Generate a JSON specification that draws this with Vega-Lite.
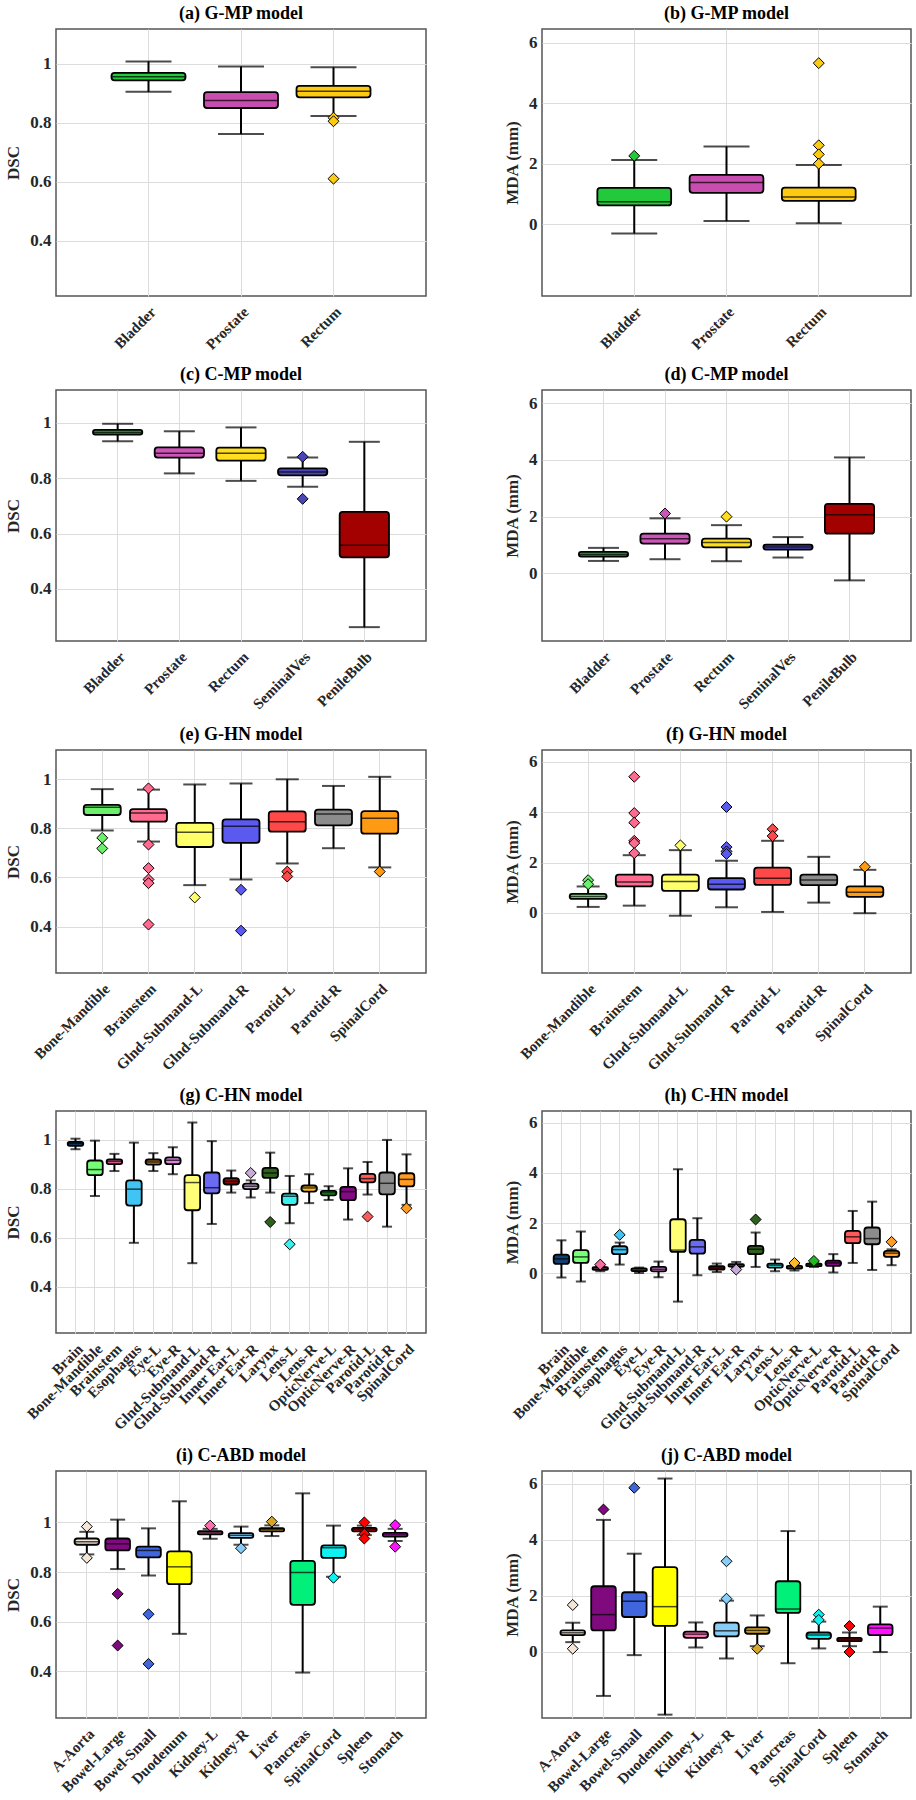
{
"$schema": "https://vega.github.io/schema/vega-lite/v6.json",
"background": "white",
"padding": {"left": 4, "top": 4, "right": 2, "bottom": 2},
"columns": 2,
"spacing": {"row": 12, "column": 75},
"align": "each",
"bounds": "full",
"resolve": {"scale": {"x": "independent", "y": "independent", "fill": "independent"}},
"config": {
  "font": "Liberation Serif",
  "title": {"font": "Liberation Serif", "fontSize": 18, "fontWeight": "bold", "color": "black", "anchor": "middle", "offset": 6},
  "axis": {"labelFont": "Liberation Serif", "labelFontWeight": "bold", "labelColor": "#262626", "titleFont": "Liberation Serif", "titleFontSize": 17, "titleFontWeight": "bold", "titleColor": "#262626", "grid": true, "gridColor": "#dcdcdc", "gridWidth": 1, "domain": false, "ticks": false},
  "axisX": {"labelAngle": -45, "labelPadding": 8, "labelFontSize": 15},
  "axisY": {"labelPadding": 5, "titlePadding": 7, "labelFontSize": 17},
  "view": {"stroke": "#555555", "strokeWidth": 1.5},
  "bar": {"stroke": "black", "strokeWidth": 1.8, "cornerRadius": 3},
  "rule": {"color": "black", "strokeWidth": 2},
  "tick": {"color": "black", "thickness": 2},
  "point": {"shape": "diamond", "filled": true, "size": 120, "stroke": "black", "strokeWidth": 1, "opacity": 1}
},
"datasets": {
  "box": [
    {"p": "a", "cat": "Bladder", "lo": 0.905, "q1": 0.944, "med": 0.956, "q3": 0.969, "hi": 1.008},
    {"p": "a", "cat": "Prostate", "lo": 0.762, "q1": 0.850, "med": 0.875, "q3": 0.904, "hi": 0.991},
    {"p": "a", "cat": "Rectum", "lo": 0.823, "q1": 0.886, "med": 0.907, "q3": 0.925, "hi": 0.988},
    {"p": "b", "cat": "Bladder", "lo": -0.31, "q1": 0.62, "med": 0.74, "q3": 1.20, "hi": 2.125},
    {"p": "b", "cat": "Prostate", "lo": 0.10, "q1": 1.035, "med": 1.38, "q3": 1.63, "hi": 2.57},
    {"p": "b", "cat": "Rectum", "lo": 0.03, "q1": 0.77, "med": 0.90, "q3": 1.21, "hi": 1.96},
    {"p": "c", "cat": "Bladder", "lo": 0.933, "q1": 0.957, "med": 0.965, "q3": 0.974, "hi": 0.996},
    {"p": "c", "cat": "Prostate", "lo": 0.817, "q1": 0.874, "med": 0.890, "q3": 0.911, "hi": 0.969},
    {"p": "c", "cat": "Rectum", "lo": 0.790, "q1": 0.863, "med": 0.890, "q3": 0.910, "hi": 0.983},
    {"p": "c", "cat": "SeminalVes", "lo": 0.769, "q1": 0.810, "med": 0.822, "q3": 0.835, "hi": 0.874},
    {"p": "c", "cat": "PenileBulb", "lo": 0.262, "q1": 0.514, "med": 0.558, "q3": 0.678, "hi": 0.931},
    {"p": "d", "cat": "Bladder", "lo": 0.44, "q1": 0.595, "med": 0.665, "q3": 0.76, "hi": 0.90},
    {"p": "d", "cat": "Prostate", "lo": 0.50, "q1": 1.05, "med": 1.225, "q3": 1.40, "hi": 1.94},
    {"p": "d", "cat": "Rectum", "lo": 0.43, "q1": 0.92, "med": 1.085, "q3": 1.225, "hi": 1.70},
    {"p": "d", "cat": "SeminalVes", "lo": 0.56, "q1": 0.84, "med": 0.935, "q3": 1.015, "hi": 1.28},
    {"p": "d", "cat": "PenileBulb", "lo": -0.245, "q1": 1.40, "med": 2.066, "q3": 2.45, "hi": 4.085},
    {"p": "e", "cat": "Bone-Mandible", "lo": 0.791, "q1": 0.854, "med": 0.885, "q3": 0.895, "hi": 0.959},
    {"p": "e", "cat": "Brainstem", "lo": 0.746, "q1": 0.827, "med": 0.862, "q3": 0.878, "hi": 0.957},
    {"p": "e", "cat": "Glnd-Submand-L", "lo": 0.569, "q1": 0.724, "med": 0.784, "q3": 0.822, "hi": 0.978},
    {"p": "e", "cat": "Glnd-Submand-R", "lo": 0.592, "q1": 0.741, "med": 0.808, "q3": 0.836, "hi": 0.982},
    {"p": "e", "cat": "Parotid-L", "lo": 0.657, "q1": 0.786, "med": 0.827, "q3": 0.869, "hi": 0.999},
    {"p": "e", "cat": "Parotid-R", "lo": 0.719, "q1": 0.812, "med": 0.858, "q3": 0.876, "hi": 0.972},
    {"p": "e", "cat": "SpinalCord", "lo": 0.641, "q1": 0.778, "med": 0.841, "q3": 0.870, "hi": 1.009},
    {"p": "f", "cat": "Bone-Mandible", "lo": 0.24, "q1": 0.556, "med": 0.65, "q3": 0.755, "hi": 1.05},
    {"p": "f", "cat": "Brainstem", "lo": 0.29, "q1": 1.05, "med": 1.23, "q3": 1.52, "hi": 2.29},
    {"p": "f", "cat": "Glnd-Submand-L", "lo": -0.11, "q1": 0.874, "med": 1.245, "q3": 1.52, "hi": 2.49},
    {"p": "f", "cat": "Glnd-Submand-R", "lo": 0.225, "q1": 0.93, "med": 1.14, "q3": 1.38, "hi": 2.07},
    {"p": "f", "cat": "Parotid-L", "lo": 0.04, "q1": 1.11, "med": 1.38, "q3": 1.80, "hi": 2.86},
    {"p": "f", "cat": "Parotid-R", "lo": 0.41, "q1": 1.10, "med": 1.31, "q3": 1.52, "hi": 2.225},
    {"p": "f", "cat": "SpinalCord", "lo": -0.01, "q1": 0.64, "med": 0.82, "q3": 1.05, "hi": 1.71},
    {"p": "g", "cat": "Brain", "lo": 0.962, "q1": 0.976, "med": 0.985, "q3": 0.992, "hi": 1.005},
    {"p": "g", "cat": "Bone-Mandible", "lo": 0.771, "q1": 0.856, "med": 0.879, "q3": 0.916, "hi": 0.997},
    {"p": "g", "cat": "Brainstem", "lo": 0.873, "q1": 0.901, "med": 0.912, "q3": 0.920, "hi": 0.943},
    {"p": "g", "cat": "Esophagus", "lo": 0.580, "q1": 0.732, "med": 0.799, "q3": 0.835, "hi": 0.989},
    {"p": "g", "cat": "Eye-L", "lo": 0.873, "q1": 0.899, "med": 0.910, "q3": 0.920, "hi": 0.946},
    {"p": "g", "cat": "Eye-R", "lo": 0.860, "q1": 0.901, "med": 0.917, "q3": 0.929, "hi": 0.970},
    {"p": "g", "cat": "Glnd-Submand-L", "lo": 0.497, "q1": 0.713, "med": 0.826, "q3": 0.856, "hi": 1.071},
    {"p": "g", "cat": "Glnd-Submand-R", "lo": 0.657, "q1": 0.782, "med": 0.805, "q3": 0.867, "hi": 0.995},
    {"p": "g", "cat": "Inner Ear-L", "lo": 0.785, "q1": 0.818, "med": 0.831, "q3": 0.844, "hi": 0.875},
    {"p": "g", "cat": "Inner Ear-R", "lo": 0.765, "q1": 0.799, "med": 0.811, "q3": 0.822, "hi": 0.835},
    {"p": "g", "cat": "Larynx", "lo": 0.785, "q1": 0.845, "med": 0.865, "q3": 0.886, "hi": 0.948},
    {"p": "g", "cat": "Lens-L", "lo": 0.660, "q1": 0.735, "med": 0.770, "q3": 0.781, "hi": 0.853},
    {"p": "g", "cat": "Lens-R", "lo": 0.742, "q1": 0.789, "med": 0.804, "q3": 0.814, "hi": 0.860},
    {"p": "g", "cat": "OpticNerve-L", "lo": 0.755, "q1": 0.774, "med": 0.784, "q3": 0.792, "hi": 0.811},
    {"p": "g", "cat": "OpticNerve-R", "lo": 0.675, "q1": 0.754, "med": 0.789, "q3": 0.808, "hi": 0.884},
    {"p": "g", "cat": "Parotid-L", "lo": 0.777, "q1": 0.827, "med": 0.842, "q3": 0.861, "hi": 0.910},
    {"p": "g", "cat": "Parotid-R", "lo": 0.646, "q1": 0.778, "med": 0.823, "q3": 0.867, "hi": 1.0},
    {"p": "g", "cat": "SpinalCord", "lo": 0.735, "q1": 0.810, "med": 0.839, "q3": 0.864, "hi": 0.941},
    {"p": "h", "cat": "Brain", "lo": -0.17, "q1": 0.37, "med": 0.57, "q3": 0.74, "hi": 1.31},
    {"p": "h", "cat": "Bone-Mandible", "lo": -0.33, "q1": 0.41, "med": 0.65, "q3": 0.92, "hi": 1.66},
    {"p": "h", "cat": "Brainstem", "lo": 0.08, "q1": 0.13, "med": 0.19, "q3": 0.24, "hi": 0.27},
    {"p": "h", "cat": "Esophagus", "lo": 0.345, "q1": 0.76, "med": 0.94, "q3": 1.075, "hi": 1.22},
    {"p": "h", "cat": "Eye-L", "lo": 0.01, "q1": 0.08, "med": 0.13, "q3": 0.19, "hi": 0.225},
    {"p": "h", "cat": "Eye-R", "lo": -0.16, "q1": 0.07, "med": 0.16, "q3": 0.25, "hi": 0.465},
    {"p": "h", "cat": "Glnd-Submand-L", "lo": -1.13, "q1": 0.85, "med": 0.92, "q3": 2.15, "hi": 4.14},
    {"p": "h", "cat": "Glnd-Submand-R", "lo": -0.08, "q1": 0.78, "med": 1.05, "q3": 1.33, "hi": 2.19},
    {"p": "h", "cat": "Inner Ear-L", "lo": 0.05, "q1": 0.146, "med": 0.21, "q3": 0.28, "hi": 0.385},
    {"p": "h", "cat": "Inner Ear-R", "lo": 0.24, "q1": 0.265, "med": 0.32, "q3": 0.36, "hi": 0.45},
    {"p": "h", "cat": "Larynx", "lo": 0.25, "q1": 0.76, "med": 0.955, "q3": 1.09, "hi": 1.62},
    {"p": "h", "cat": "Lens-L", "lo": 0.08, "q1": 0.225, "med": 0.32, "q3": 0.385, "hi": 0.545},
    {"p": "h", "cat": "Lens-R", "lo": 0.105, "q1": 0.185, "med": 0.24, "q3": 0.29, "hi": 0.33},
    {"p": "h", "cat": "OpticNerve-L", "lo": 0.25, "q1": 0.28, "med": 0.345, "q3": 0.385, "hi": 0.40},
    {"p": "h", "cat": "OpticNerve-R", "lo": 0.03, "q1": 0.29, "med": 0.41, "q3": 0.505, "hi": 0.76},
    {"p": "h", "cat": "Parotid-L", "lo": 0.41, "q1": 1.195, "med": 1.45, "q3": 1.69, "hi": 2.48},
    {"p": "h", "cat": "Parotid-R", "lo": 0.13, "q1": 1.155, "med": 1.38, "q3": 1.82, "hi": 2.85},
    {"p": "h", "cat": "SpinalCord", "lo": 0.32, "q1": 0.65, "med": 0.80, "q3": 0.89, "hi": 0.95},
    {"p": "i", "cat": "A-Aorta", "lo": 0.871, "q1": 0.910, "med": 0.922, "q3": 0.935, "hi": 0.962},
    {"p": "i", "cat": "Bowel-Large", "lo": 0.812, "q1": 0.887, "med": 0.914, "q3": 0.935, "hi": 1.011},
    {"p": "i", "cat": "Bowel-Small", "lo": 0.786, "q1": 0.859, "med": 0.887, "q3": 0.902, "hi": 0.976},
    {"p": "i", "cat": "Duodenum", "lo": 0.551, "q1": 0.751, "med": 0.821, "q3": 0.883, "hi": 1.085},
    {"p": "i", "cat": "Kidney-L", "lo": 0.934, "q1": 0.952, "med": 0.958, "q3": 0.965, "hi": 0.974},
    {"p": "i", "cat": "Kidney-R", "lo": 0.910, "q1": 0.938, "med": 0.948, "q3": 0.957, "hi": 0.983},
    {"p": "i", "cat": "Liver", "lo": 0.945, "q1": 0.964, "med": 0.972, "q3": 0.977, "hi": 0.988},
    {"p": "i", "cat": "Pancreas", "lo": 0.395, "q1": 0.668, "med": 0.798, "q3": 0.845, "hi": 1.117},
    {"p": "i", "cat": "SpinalCord", "lo": 0.781, "q1": 0.857, "med": 0.898, "q3": 0.907, "hi": 0.987},
    {"p": "i", "cat": "Spleen", "lo": 0.949, "q1": 0.964, "med": 0.972, "q3": 0.978, "hi": 0.987},
    {"p": "i", "cat": "Stomach", "lo": 0.925, "q1": 0.943, "med": 0.950, "q3": 0.958, "hi": 0.974},
    {"p": "j", "cat": "A-Aorta", "lo": 0.335, "q1": 0.585, "med": 0.67, "q3": 0.755, "hi": 1.03},
    {"p": "j", "cat": "Bowel-Large", "lo": -1.59, "q1": 0.755, "med": 1.32, "q3": 2.335, "hi": 4.71},
    {"p": "j", "cat": "Bowel-Small", "lo": -0.13, "q1": 1.235, "med": 1.80, "q3": 2.12, "hi": 3.50},
    {"p": "j", "cat": "Duodenum", "lo": -2.26, "q1": 0.92, "med": 1.605, "q3": 3.02, "hi": 6.19},
    {"p": "j", "cat": "Kidney-L", "lo": 0.144, "q1": 0.49, "med": 0.62, "q3": 0.71, "hi": 1.04},
    {"p": "j", "cat": "Kidney-R", "lo": -0.25, "q1": 0.54, "med": 0.74, "q3": 1.03, "hi": 1.82},
    {"p": "j", "cat": "Liver", "lo": 0.19, "q1": 0.635, "med": 0.755, "q3": 0.86, "hi": 1.29},
    {"p": "j", "cat": "Pancreas", "lo": -0.42, "q1": 1.38, "med": 1.52, "q3": 2.515, "hi": 4.31},
    {"p": "j", "cat": "SpinalCord", "lo": 0.11, "q1": 0.455, "med": 0.59, "q3": 0.68, "hi": 1.07},
    {"p": "j", "cat": "Spleen", "lo": 0.19, "q1": 0.37, "med": 0.43, "q3": 0.49, "hi": 0.68},
    {"p": "j", "cat": "Stomach", "lo": -0.02, "q1": 0.585, "med": 0.84, "q3": 0.97, "hi": 1.605}
  ],
  "out": [
    {"p": "a", "cat": "Rectum", "v": 0.817}, {"p": "a", "cat": "Rectum", "v": 0.805}, {"p": "a", "cat": "Rectum", "v": 0.610},
    {"p": "b", "cat": "Bladder", "v": 2.26},
    {"p": "b", "cat": "Rectum", "v": 5.33}, {"p": "b", "cat": "Rectum", "v": 2.61}, {"p": "b", "cat": "Rectum", "v": 2.31}, {"p": "b", "cat": "Rectum", "v": 2.0},
    {"p": "c", "cat": "SeminalVes", "v": 0.877}, {"p": "c", "cat": "SeminalVes", "v": 0.725},
    {"p": "d", "cat": "Prostate", "v": 2.11}, {"p": "d", "cat": "Rectum", "v": 2.0},
    {"p": "e", "cat": "Bone-Mandible", "v": 0.761}, {"p": "e", "cat": "Bone-Mandible", "v": 0.718},
    {"p": "e", "cat": "Brainstem", "v": 0.962}, {"p": "e", "cat": "Brainstem", "v": 0.734}, {"p": "e", "cat": "Brainstem", "v": 0.638}, {"p": "e", "cat": "Brainstem", "v": 0.592}, {"p": "e", "cat": "Brainstem", "v": 0.577}, {"p": "e", "cat": "Brainstem", "v": 0.409},
    {"p": "e", "cat": "Glnd-Submand-L", "v": 0.519},
    {"p": "e", "cat": "Glnd-Submand-R", "v": 0.550}, {"p": "e", "cat": "Glnd-Submand-R", "v": 0.384},
    {"p": "e", "cat": "Parotid-L", "v": 0.624}, {"p": "e", "cat": "Parotid-L", "v": 0.604},
    {"p": "e", "cat": "SpinalCord", "v": 0.624},
    {"p": "f", "cat": "Bone-Mandible", "v": 1.30}, {"p": "f", "cat": "Bone-Mandible", "v": 1.14},
    {"p": "f", "cat": "Brainstem", "v": 5.40}, {"p": "f", "cat": "Brainstem", "v": 3.96}, {"p": "f", "cat": "Brainstem", "v": 3.58}, {"p": "f", "cat": "Brainstem", "v": 2.86}, {"p": "f", "cat": "Brainstem", "v": 2.77}, {"p": "f", "cat": "Brainstem", "v": 2.37},
    {"p": "f", "cat": "Glnd-Submand-L", "v": 2.68},
    {"p": "f", "cat": "Glnd-Submand-R", "v": 4.20}, {"p": "f", "cat": "Glnd-Submand-R", "v": 2.61}, {"p": "f", "cat": "Glnd-Submand-R", "v": 2.44}, {"p": "f", "cat": "Glnd-Submand-R", "v": 2.34},
    {"p": "f", "cat": "Parotid-L", "v": 3.32}, {"p": "f", "cat": "Parotid-L", "v": 3.05},
    {"p": "f", "cat": "SpinalCord", "v": 1.83},
    {"p": "g", "cat": "Inner Ear-R", "v": 0.865},
    {"p": "g", "cat": "Larynx", "v": 0.665},
    {"p": "g", "cat": "Lens-L", "v": 0.574},
    {"p": "g", "cat": "Parotid-L", "v": 0.687},
    {"p": "g", "cat": "SpinalCord", "v": 0.721},
    {"p": "h", "cat": "Brainstem", "v": 0.345},
    {"p": "h", "cat": "Esophagus", "v": 1.53},
    {"p": "h", "cat": "Inner Ear-R", "v": 0.146},
    {"p": "h", "cat": "Larynx", "v": 2.14},
    {"p": "h", "cat": "Lens-R", "v": 0.41},
    {"p": "h", "cat": "OpticNerve-L", "v": 0.49},
    {"p": "h", "cat": "SpinalCord", "v": 1.25},
    {"p": "i", "cat": "A-Aorta", "v": 0.983}, {"p": "i", "cat": "A-Aorta", "v": 0.857},
    {"p": "i", "cat": "Bowel-Large", "v": 0.712}, {"p": "i", "cat": "Bowel-Large", "v": 0.504},
    {"p": "i", "cat": "Bowel-Small", "v": 0.630}, {"p": "i", "cat": "Bowel-Small", "v": 0.430},
    {"p": "i", "cat": "Kidney-L", "v": 0.987},
    {"p": "i", "cat": "Kidney-R", "v": 0.896},
    {"p": "i", "cat": "Liver", "v": 1.003},
    {"p": "i", "cat": "SpinalCord", "v": 0.777},
    {"p": "i", "cat": "Spleen", "v": 1.0}, {"p": "i", "cat": "Spleen", "v": 0.954}, {"p": "i", "cat": "Spleen", "v": 0.935},
    {"p": "i", "cat": "Stomach", "v": 0.989}, {"p": "i", "cat": "Stomach", "v": 0.902},
    {"p": "j", "cat": "A-Aorta", "v": 1.665}, {"p": "j", "cat": "A-Aorta", "v": 0.10},
    {"p": "j", "cat": "Bowel-Large", "v": 5.08},
    {"p": "j", "cat": "Bowel-Small", "v": 5.86},
    {"p": "j", "cat": "Kidney-R", "v": 3.23}, {"p": "j", "cat": "Kidney-R", "v": 1.89},
    {"p": "j", "cat": "Liver", "v": 0.10},
    {"p": "j", "cat": "SpinalCord", "v": 1.32}, {"p": "j", "cat": "SpinalCord", "v": 1.13},
    {"p": "j", "cat": "Spleen", "v": 0.91}, {"p": "j", "cat": "Spleen", "v": -0.02}
  ]
},
"concat": [
{
 "title": "(a) G-MP model", "width": 370, "height": 267,
 "data": {"name": "box"}, "transform": [{"filter": "datum.p == 'a'"}],
 "encoding": {"x": {"field": "cat", "type": "nominal", "title": null, "scale": {"type": "band", "domain": ["Bladder", "Prostate", "Rectum"], "paddingInner": 0, "paddingOuter": 0.5}}},
 "layer": [
  {"mark": "rule", "encoding": {"y": {"field": "lo", "type": "quantitative", "title": "DSC", "scale": {"domain": [0.212, 1.118], "nice": false, "zero": false}, "axis": {"values": [0.4, 0.6, 0.8, 1], "format": "~g"}}, "y2": {"field": "hi"}}},
  {"mark": {"type": "tick", "size": 46}, "encoding": {"y": {"field": "lo", "type": "quantitative", "title": "DSC"}}},
  {"mark": {"type": "tick", "size": 46}, "encoding": {"y": {"field": "hi", "type": "quantitative", "title": "DSC"}}},
  {"mark": {"type": "bar", "width": {"band": 0.8}}, "encoding": {"y": {"field": "q1", "type": "quantitative", "title": "DSC"}, "y2": {"field": "q3"}, "fill": {"field": "cat", "type": "nominal", "legend": null, "scale": {"domain": ["Bladder", "Prostate", "Rectum"], "range": ["#22c93a", "#c94caf", "#fdca12"]}}}},
  {"mark": {"type": "tick", "size": 74, "thickness": 1.5}, "encoding": {"y": {"field": "med", "type": "quantitative", "title": "DSC"}}},
  {"data": {"name": "out"}, "transform": [{"filter": "datum.p == 'a'"}], "mark": "point", "encoding": {"y": {"field": "v", "type": "quantitative", "title": "DSC"}, "fill": {"field": "cat", "type": "nominal", "legend": null, "scale": {"domain": ["Bladder", "Prostate", "Rectum"], "range": ["#22c93a", "#c94caf", "#fdca12"]}}}}
 ]
},
{
 "title": "(b) G-MP model", "width": 369, "height": 267,
 "data": {"name": "box"}, "transform": [{"filter": "datum.p == 'b'"}],
 "encoding": {"x": {"field": "cat", "type": "nominal", "title": null, "scale": {"type": "band", "domain": ["Bladder", "Prostate", "Rectum"], "paddingInner": 0, "paddingOuter": 0.5}}},
 "layer": [
  {"mark": "rule", "encoding": {"y": {"field": "lo", "type": "quantitative", "title": "MDA (mm)", "scale": {"domain": [-2.38, 6.46], "nice": false, "zero": false}, "axis": {"values": [0, 2, 4, 6], "format": "~g"}}, "y2": {"field": "hi"}}},
  {"mark": {"type": "tick", "size": 46}, "encoding": {"y": {"field": "lo", "type": "quantitative", "title": "MDA (mm)"}}},
  {"mark": {"type": "tick", "size": 46}, "encoding": {"y": {"field": "hi", "type": "quantitative", "title": "MDA (mm)"}}},
  {"mark": {"type": "bar", "width": {"band": 0.8}}, "encoding": {"y": {"field": "q1", "type": "quantitative", "title": "MDA (mm)"}, "y2": {"field": "q3"}, "fill": {"field": "cat", "type": "nominal", "legend": null, "scale": {"domain": ["Bladder", "Prostate", "Rectum"], "range": ["#22c93a", "#c94caf", "#fdca12"]}}}},
  {"mark": {"type": "tick", "size": 74, "thickness": 1.5}, "encoding": {"y": {"field": "med", "type": "quantitative", "title": "MDA (mm)"}}},
  {"data": {"name": "out"}, "transform": [{"filter": "datum.p == 'b'"}], "mark": "point", "encoding": {"y": {"field": "v", "type": "quantitative", "title": "MDA (mm)"}, "fill": {"field": "cat", "type": "nominal", "legend": null, "scale": {"domain": ["Bladder", "Prostate", "Rectum"], "range": ["#22c93a", "#c94caf", "#fdca12"]}}}}
 ]
},
{
 "title": "(c) C-MP model", "width": 370, "height": 251,
 "data": {"name": "box"}, "transform": [{"filter": "datum.p == 'c'"}],
 "encoding": {"x": {"field": "cat", "type": "nominal", "title": null, "scale": {"type": "band", "domain": ["Bladder", "Prostate", "Rectum", "SeminalVes", "PenileBulb"], "paddingInner": 0, "paddingOuter": 0.5}}},
 "layer": [
  {"mark": "rule", "encoding": {"y": {"field": "lo", "type": "quantitative", "title": "DSC", "scale": {"domain": [0.212, 1.118], "nice": false, "zero": false}, "axis": {"values": [0.4, 0.6, 0.8, 1], "format": "~g"}}, "y2": {"field": "hi"}}},
  {"mark": {"type": "tick", "size": 31}, "encoding": {"y": {"field": "lo", "type": "quantitative", "title": "DSC"}}},
  {"mark": {"type": "tick", "size": 31}, "encoding": {"y": {"field": "hi", "type": "quantitative", "title": "DSC"}}},
  {"mark": {"type": "bar", "width": {"band": 0.8}}, "encoding": {"y": {"field": "q1", "type": "quantitative", "title": "DSC"}, "y2": {"field": "q3"}, "fill": {"field": "cat", "type": "nominal", "legend": null, "scale": {"domain": ["Bladder", "Prostate", "Rectum", "SeminalVes", "PenileBulb"], "range": ["#2f9e3a", "#cc55b8", "#ffdd1f", "#4b46b6", "#a30000"]}}}},
  {"mark": {"type": "tick", "size": 49, "thickness": 1.5}, "encoding": {"y": {"field": "med", "type": "quantitative", "title": "DSC"}}},
  {"data": {"name": "out"}, "transform": [{"filter": "datum.p == 'c'"}], "mark": "point", "encoding": {"y": {"field": "v", "type": "quantitative", "title": "DSC"}, "fill": {"field": "cat", "type": "nominal", "legend": null, "scale": {"domain": ["Bladder", "Prostate", "Rectum", "SeminalVes", "PenileBulb"], "range": ["#2f9e3a", "#cc55b8", "#ffdd1f", "#4b46b6", "#a30000"]}}}}
 ]
},
{
 "title": "(d) C-MP model", "width": 369, "height": 251,
 "data": {"name": "box"}, "transform": [{"filter": "datum.p == 'd'"}],
 "encoding": {"x": {"field": "cat", "type": "nominal", "title": null, "scale": {"type": "band", "domain": ["Bladder", "Prostate", "Rectum", "SeminalVes", "PenileBulb"], "paddingInner": 0, "paddingOuter": 0.5}}},
 "layer": [
  {"mark": "rule", "encoding": {"y": {"field": "lo", "type": "quantitative", "title": "MDA (mm)", "scale": {"domain": [-2.38, 6.46], "nice": false, "zero": false}, "axis": {"values": [0, 2, 4, 6], "format": "~g"}}, "y2": {"field": "hi"}}},
  {"mark": {"type": "tick", "size": 31}, "encoding": {"y": {"field": "lo", "type": "quantitative", "title": "MDA (mm)"}}},
  {"mark": {"type": "tick", "size": 31}, "encoding": {"y": {"field": "hi", "type": "quantitative", "title": "MDA (mm)"}}},
  {"mark": {"type": "bar", "width": {"band": 0.8}}, "encoding": {"y": {"field": "q1", "type": "quantitative", "title": "MDA (mm)"}, "y2": {"field": "q3"}, "fill": {"field": "cat", "type": "nominal", "legend": null, "scale": {"domain": ["Bladder", "Prostate", "Rectum", "SeminalVes", "PenileBulb"], "range": ["#2f9e3a", "#cc55b8", "#ffdd1f", "#4b46b6", "#a30000"]}}}},
  {"mark": {"type": "tick", "size": 49, "thickness": 1.5}, "encoding": {"y": {"field": "med", "type": "quantitative", "title": "MDA (mm)"}}},
  {"data": {"name": "out"}, "transform": [{"filter": "datum.p == 'd'"}], "mark": "point", "encoding": {"y": {"field": "v", "type": "quantitative", "title": "MDA (mm)"}, "fill": {"field": "cat", "type": "nominal", "legend": null, "scale": {"domain": ["Bladder", "Prostate", "Rectum", "SeminalVes", "PenileBulb"], "range": ["#2f9e3a", "#cc55b8", "#ffdd1f", "#4b46b6", "#a30000"]}}}}
 ]
},
{
 "title": "(e) G-HN model", "width": 370, "height": 223,
 "data": {"name": "box"}, "transform": [{"filter": "datum.p == 'e'"}],
 "encoding": {"x": {"field": "cat", "type": "nominal", "title": null, "scale": {"type": "band", "domain": ["Bone-Mandible", "Brainstem", "Glnd-Submand-L", "Glnd-Submand-R", "Parotid-L", "Parotid-R", "SpinalCord"], "paddingInner": 0, "paddingOuter": 0.5}}},
 "layer": [
  {"mark": "rule", "encoding": {"y": {"field": "lo", "type": "quantitative", "title": "DSC", "scale": {"domain": [0.212, 1.118], "nice": false, "zero": false}, "axis": {"values": [0.4, 0.6, 0.8, 1], "format": "~g"}}, "y2": {"field": "hi"}}},
  {"mark": {"type": "tick", "size": 23}, "encoding": {"y": {"field": "lo", "type": "quantitative", "title": "DSC"}}},
  {"mark": {"type": "tick", "size": 23}, "encoding": {"y": {"field": "hi", "type": "quantitative", "title": "DSC"}}},
  {"mark": {"type": "bar", "width": {"band": 0.8}}, "encoding": {"y": {"field": "q1", "type": "quantitative", "title": "DSC"}, "y2": {"field": "q3"}, "fill": {"field": "cat", "type": "nominal", "legend": null, "scale": {"domain": ["Bone-Mandible", "Brainstem", "Glnd-Submand-L", "Glnd-Submand-R", "Parotid-L", "Parotid-R", "SpinalCord"], "range": ["#6cf06c", "#ff6b8e", "#ffff6a", "#5a5af0", "#ff4848", "#8c8c8c", "#ff9a14"]}}}},
  {"mark": {"type": "tick", "size": 37, "thickness": 1.5}, "encoding": {"y": {"field": "med", "type": "quantitative", "title": "DSC"}}},
  {"data": {"name": "out"}, "transform": [{"filter": "datum.p == 'e'"}], "mark": "point", "encoding": {"y": {"field": "v", "type": "quantitative", "title": "DSC"}, "fill": {"field": "cat", "type": "nominal", "legend": null, "scale": {"domain": ["Bone-Mandible", "Brainstem", "Glnd-Submand-L", "Glnd-Submand-R", "Parotid-L", "Parotid-R", "SpinalCord"], "range": ["#6cf06c", "#ff6b8e", "#ffff6a", "#5a5af0", "#ff4848", "#8c8c8c", "#ff9a14"]}}}}
 ]
},
{
 "title": "(f) G-HN model", "width": 369, "height": 223,
 "data": {"name": "box"}, "transform": [{"filter": "datum.p == 'f'"}],
 "encoding": {"x": {"field": "cat", "type": "nominal", "title": null, "scale": {"type": "band", "domain": ["Bone-Mandible", "Brainstem", "Glnd-Submand-L", "Glnd-Submand-R", "Parotid-L", "Parotid-R", "SpinalCord"], "paddingInner": 0, "paddingOuter": 0.5}}},
 "layer": [
  {"mark": "rule", "encoding": {"y": {"field": "lo", "type": "quantitative", "title": "MDA (mm)", "scale": {"domain": [-2.38, 6.46], "nice": false, "zero": false}, "axis": {"values": [0, 2, 4, 6], "format": "~g"}}, "y2": {"field": "hi"}}},
  {"mark": {"type": "tick", "size": 23}, "encoding": {"y": {"field": "lo", "type": "quantitative", "title": "MDA (mm)"}}},
  {"mark": {"type": "tick", "size": 23}, "encoding": {"y": {"field": "hi", "type": "quantitative", "title": "MDA (mm)"}}},
  {"mark": {"type": "bar", "width": {"band": 0.8}}, "encoding": {"y": {"field": "q1", "type": "quantitative", "title": "MDA (mm)"}, "y2": {"field": "q3"}, "fill": {"field": "cat", "type": "nominal", "legend": null, "scale": {"domain": ["Bone-Mandible", "Brainstem", "Glnd-Submand-L", "Glnd-Submand-R", "Parotid-L", "Parotid-R", "SpinalCord"], "range": ["#6cf06c", "#ff6b8e", "#ffff6a", "#5a5af0", "#ff4848", "#8c8c8c", "#ff9a14"]}}}},
  {"mark": {"type": "tick", "size": 37, "thickness": 1.5}, "encoding": {"y": {"field": "med", "type": "quantitative", "title": "MDA (mm)"}}},
  {"data": {"name": "out"}, "transform": [{"filter": "datum.p == 'f'"}], "mark": "point", "encoding": {"y": {"field": "v", "type": "quantitative", "title": "MDA (mm)"}, "fill": {"field": "cat", "type": "nominal", "legend": null, "scale": {"domain": ["Bone-Mandible", "Brainstem", "Glnd-Submand-L", "Glnd-Submand-R", "Parotid-L", "Parotid-R", "SpinalCord"], "range": ["#6cf06c", "#ff6b8e", "#ffff6a", "#5a5af0", "#ff4848", "#8c8c8c", "#ff9a14"]}}}}
 ]
},
{
 "title": "(g) C-HN model", "width": 370, "height": 222,
 "data": {"name": "box"}, "transform": [{"filter": "datum.p == 'g'"}],
 "encoding": {"x": {"field": "cat", "type": "nominal", "title": null, "scale": {"type": "band", "domain": ["Brain", "Bone-Mandible", "Brainstem", "Esophagus", "Eye-L", "Eye-R", "Glnd-Submand-L", "Glnd-Submand-R", "Inner Ear-L", "Inner Ear-R", "Larynx", "Lens-L", "Lens-R", "OpticNerve-L", "OpticNerve-R", "Parotid-L", "Parotid-R", "SpinalCord"], "paddingInner": 0, "paddingOuter": 0.5}}},
 "layer": [
  {"mark": "rule", "encoding": {"y": {"field": "lo", "type": "quantitative", "title": "DSC", "scale": {"domain": [0.212, 1.118], "nice": false, "zero": false}, "axis": {"values": [0.4, 0.6, 0.8, 1], "format": "~g"}}, "y2": {"field": "hi"}}},
  {"mark": {"type": "tick", "size": 10}, "encoding": {"y": {"field": "lo", "type": "quantitative", "title": "DSC"}}},
  {"mark": {"type": "tick", "size": 10}, "encoding": {"y": {"field": "hi", "type": "quantitative", "title": "DSC"}}},
  {"mark": {"type": "bar", "width": {"band": 0.8}}, "encoding": {"y": {"field": "q1", "type": "quantitative", "title": "DSC"}, "y2": {"field": "q3"}, "fill": {"field": "cat", "type": "nominal", "legend": null, "scale": {"domain": ["Brain", "Bone-Mandible", "Brainstem", "Esophagus", "Eye-L", "Eye-R", "Glnd-Submand-L", "Glnd-Submand-R", "Inner Ear-L", "Inner Ear-R", "Larynx", "Lens-L", "Lens-R", "OpticNerve-L", "OpticNerve-R", "Parotid-L", "Parotid-R", "SpinalCord"], "range": ["#123f70", "#77ff77", "#f06ea0", "#40c4f4", "#b8782e", "#d884d8", "#ffff78", "#6a6af2", "#8e0a0a", "#c8aad8", "#2f5f1c", "#38f0f0", "#ffbb24", "#22b822", "#820a82", "#ff5a5a", "#8c8c8c", "#ff9c24"]}}}},
  {"mark": {"type": "tick", "size": 15.5, "thickness": 1.5}, "encoding": {"y": {"field": "med", "type": "quantitative", "title": "DSC"}}},
  {"data": {"name": "out"}, "transform": [{"filter": "datum.p == 'g'"}], "mark": "point", "encoding": {"y": {"field": "v", "type": "quantitative", "title": "DSC"}, "fill": {"field": "cat", "type": "nominal", "legend": null, "scale": {"domain": ["Brain", "Bone-Mandible", "Brainstem", "Esophagus", "Eye-L", "Eye-R", "Glnd-Submand-L", "Glnd-Submand-R", "Inner Ear-L", "Inner Ear-R", "Larynx", "Lens-L", "Lens-R", "OpticNerve-L", "OpticNerve-R", "Parotid-L", "Parotid-R", "SpinalCord"], "range": ["#123f70", "#77ff77", "#f06ea0", "#40c4f4", "#b8782e", "#d884d8", "#ffff78", "#6a6af2", "#8e0a0a", "#c8aad8", "#2f5f1c", "#38f0f0", "#ffbb24", "#22b822", "#820a82", "#ff5a5a", "#8c8c8c", "#ff9c24"]}}}}
 ]
},
{
 "title": "(h) C-HN model", "width": 369, "height": 222,
 "data": {"name": "box"}, "transform": [{"filter": "datum.p == 'h'"}],
 "encoding": {"x": {"field": "cat", "type": "nominal", "title": null, "scale": {"type": "band", "domain": ["Brain", "Bone-Mandible", "Brainstem", "Esophagus", "Eye-L", "Eye-R", "Glnd-Submand-L", "Glnd-Submand-R", "Inner Ear-L", "Inner Ear-R", "Larynx", "Lens-L", "Lens-R", "OpticNerve-L", "OpticNerve-R", "Parotid-L", "Parotid-R", "SpinalCord"], "paddingInner": 0, "paddingOuter": 0.5}}},
 "layer": [
  {"mark": "rule", "encoding": {"y": {"field": "lo", "type": "quantitative", "title": "MDA (mm)", "scale": {"domain": [-2.38, 6.46], "nice": false, "zero": false}, "axis": {"values": [0, 2, 4, 6], "format": "~g"}}, "y2": {"field": "hi"}}},
  {"mark": {"type": "tick", "size": 10}, "encoding": {"y": {"field": "lo", "type": "quantitative", "title": "MDA (mm)"}}},
  {"mark": {"type": "tick", "size": 10}, "encoding": {"y": {"field": "hi", "type": "quantitative", "title": "MDA (mm)"}}},
  {"mark": {"type": "bar", "width": {"band": 0.8}}, "encoding": {"y": {"field": "q1", "type": "quantitative", "title": "MDA (mm)"}, "y2": {"field": "q3"}, "fill": {"field": "cat", "type": "nominal", "legend": null, "scale": {"domain": ["Brain", "Bone-Mandible", "Brainstem", "Esophagus", "Eye-L", "Eye-R", "Glnd-Submand-L", "Glnd-Submand-R", "Inner Ear-L", "Inner Ear-R", "Larynx", "Lens-L", "Lens-R", "OpticNerve-L", "OpticNerve-R", "Parotid-L", "Parotid-R", "SpinalCord"], "range": ["#123f70", "#77ff77", "#f06ea0", "#40c4f4", "#b8782e", "#d884d8", "#ffff78", "#6a6af2", "#8e0a0a", "#c8aad8", "#2f5f1c", "#38f0f0", "#ffbb24", "#22b822", "#820a82", "#ff5a5a", "#8c8c8c", "#ff9c24"]}}}},
  {"mark": {"type": "tick", "size": 15.5, "thickness": 1.5}, "encoding": {"y": {"field": "med", "type": "quantitative", "title": "MDA (mm)"}}},
  {"data": {"name": "out"}, "transform": [{"filter": "datum.p == 'h'"}], "mark": "point", "encoding": {"y": {"field": "v", "type": "quantitative", "title": "MDA (mm)"}, "fill": {"field": "cat", "type": "nominal", "legend": null, "scale": {"domain": ["Brain", "Bone-Mandible", "Brainstem", "Esophagus", "Eye-L", "Eye-R", "Glnd-Submand-L", "Glnd-Submand-R", "Inner Ear-L", "Inner Ear-R", "Larynx", "Lens-L", "Lens-R", "OpticNerve-L", "OpticNerve-R", "Parotid-L", "Parotid-R", "SpinalCord"], "range": ["#123f70", "#77ff77", "#f06ea0", "#40c4f4", "#b8782e", "#d884d8", "#ffff78", "#6a6af2", "#8e0a0a", "#c8aad8", "#2f5f1c", "#38f0f0", "#ffbb24", "#22b822", "#820a82", "#ff5a5a", "#8c8c8c", "#ff9c24"]}}}}
 ]
},
{
 "title": "(i) C-ABD model", "width": 370, "height": 247,
 "data": {"name": "box"}, "transform": [{"filter": "datum.p == 'i'"}],
 "encoding": {"x": {"field": "cat", "type": "nominal", "title": null, "scale": {"type": "band", "domain": ["A-Aorta", "Bowel-Large", "Bowel-Small", "Duodenum", "Kidney-L", "Kidney-R", "Liver", "Pancreas", "SpinalCord", "Spleen", "Stomach"], "paddingInner": 0, "paddingOuter": 0.5}}},
 "layer": [
  {"mark": "rule", "encoding": {"y": {"field": "lo", "type": "quantitative", "title": "DSC", "scale": {"domain": [0.212, 1.207], "nice": false, "zero": false}, "axis": {"values": [0.4, 0.6, 0.8, 1], "format": "~g"}}, "y2": {"field": "hi"}}},
  {"mark": {"type": "tick", "size": 15}, "encoding": {"y": {"field": "lo", "type": "quantitative", "title": "DSC"}}},
  {"mark": {"type": "tick", "size": 15}, "encoding": {"y": {"field": "hi", "type": "quantitative", "title": "DSC"}}},
  {"mark": {"type": "bar", "width": {"band": 0.8}}, "encoding": {"y": {"field": "q1", "type": "quantitative", "title": "DSC"}, "y2": {"field": "q3"}, "fill": {"field": "cat", "type": "nominal", "legend": null, "scale": {"domain": ["A-Aorta", "Bowel-Large", "Bowel-Small", "Duodenum", "Kidney-L", "Kidney-R", "Liver", "Pancreas", "SpinalCord", "Spleen", "Stomach"], "range": ["#f3e6d6", "#7e0a7e", "#3f66dd", "#ffff00", "#ff6eb4", "#88cdf6", "#d9a526", "#00f07a", "#10f0f0", "#ff0000", "#ff10ff"]}}}},
  {"mark": {"type": "tick", "size": 24.5, "thickness": 1.5}, "encoding": {"y": {"field": "med", "type": "quantitative", "title": "DSC"}}},
  {"data": {"name": "out"}, "transform": [{"filter": "datum.p == 'i'"}], "mark": "point", "encoding": {"y": {"field": "v", "type": "quantitative", "title": "DSC"}, "fill": {"field": "cat", "type": "nominal", "legend": null, "scale": {"domain": ["A-Aorta", "Bowel-Large", "Bowel-Small", "Duodenum", "Kidney-L", "Kidney-R", "Liver", "Pancreas", "SpinalCord", "Spleen", "Stomach"], "range": ["#f3e6d6", "#7e0a7e", "#3f66dd", "#ffff00", "#ff6eb4", "#88cdf6", "#d9a526", "#00f07a", "#10f0f0", "#ff0000", "#ff10ff"]}}}}
 ]
},
{
 "title": "(j) C-ABD model", "width": 369, "height": 247,
 "data": {"name": "box"}, "transform": [{"filter": "datum.p == 'j'"}],
 "encoding": {"x": {"field": "cat", "type": "nominal", "title": null, "scale": {"type": "band", "domain": ["A-Aorta", "Bowel-Large", "Bowel-Small", "Duodenum", "Kidney-L", "Kidney-R", "Liver", "Pancreas", "SpinalCord", "Spleen", "Stomach"], "paddingInner": 0, "paddingOuter": 0.5}}},
 "layer": [
  {"mark": "rule", "encoding": {"y": {"field": "lo", "type": "quantitative", "title": "MDA (mm)", "scale": {"domain": [-2.38, 6.46], "nice": false, "zero": false}, "axis": {"values": [0, 2, 4, 6], "format": "~g"}}, "y2": {"field": "hi"}}},
  {"mark": {"type": "tick", "size": 15}, "encoding": {"y": {"field": "lo", "type": "quantitative", "title": "MDA (mm)"}}},
  {"mark": {"type": "tick", "size": 15}, "encoding": {"y": {"field": "hi", "type": "quantitative", "title": "MDA (mm)"}}},
  {"mark": {"type": "bar", "width": {"band": 0.8}}, "encoding": {"y": {"field": "q1", "type": "quantitative", "title": "MDA (mm)"}, "y2": {"field": "q3"}, "fill": {"field": "cat", "type": "nominal", "legend": null, "scale": {"domain": ["A-Aorta", "Bowel-Large", "Bowel-Small", "Duodenum", "Kidney-L", "Kidney-R", "Liver", "Pancreas", "SpinalCord", "Spleen", "Stomach"], "range": ["#f3e6d6", "#7e0a7e", "#3f66dd", "#ffff00", "#ff6eb4", "#88cdf6", "#d9a526", "#00f07a", "#10f0f0", "#ff0000", "#ff10ff"]}}}},
  {"mark": {"type": "tick", "size": 24.5, "thickness": 1.5}, "encoding": {"y": {"field": "med", "type": "quantitative", "title": "MDA (mm)"}}},
  {"data": {"name": "out"}, "transform": [{"filter": "datum.p == 'j'"}], "mark": "point", "encoding": {"y": {"field": "v", "type": "quantitative", "title": "MDA (mm)"}, "fill": {"field": "cat", "type": "nominal", "legend": null, "scale": {"domain": ["A-Aorta", "Bowel-Large", "Bowel-Small", "Duodenum", "Kidney-L", "Kidney-R", "Liver", "Pancreas", "SpinalCord", "Spleen", "Stomach"], "range": ["#f3e6d6", "#7e0a7e", "#3f66dd", "#ffff00", "#ff6eb4", "#88cdf6", "#d9a526", "#00f07a", "#10f0f0", "#ff0000", "#ff10ff"]}}}}
 ]
}
]
}
